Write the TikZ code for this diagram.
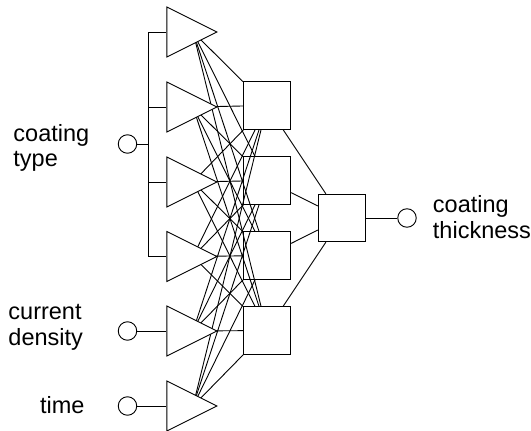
\documentclass[tikz,border=0pt]{standalone}
\usepackage{fontspec}
\setmainfont{Liberation Sans}
\usetikzlibrary{shapes.geometric}
\begin{document}
\begin{tikzpicture}[x=1pt,y=-1pt,line width=0.9pt,
  tri/.style={draw,fill=white,isosceles triangle,isosceles triangle stretches,
    minimum width=50,minimum height=50,inner sep=0pt,anchor=apex},
  sq/.style={draw,rectangle,minimum size=47.5,inner sep=0pt},
  circ/.style={draw,circle,minimum size=18.5,inner sep=0pt},
  lbl/.style={font=\fontsize{23.5}{25.5}\selectfont,inner sep=0pt,align=left}]
\useasboundingbox (0,0) rectangle (531,431);
% hidden squares
\foreach \j/\y in {1/105.5,2/180.5,3/255.5,4/330.5}
  \node[sq] (h\j) at (267,\y) {};
% output square
\node[sq] (o) at (342,218) {};
% centres of the input triangles
\foreach \i/\y in {1/32,2/107,3/182,4/256.5,5/331,6/406}
  \coordinate (c\i) at (193,\y);
% connections input -> hidden (hidden inside the triangles by their fill)
\foreach \i in {1,...,6}
  \foreach \j in {1,...,4}
    \draw (c\i) -- (h\j);
% input triangles
\foreach \i/\y in {1/32,2/107,3/182,4/256.5,5/331,6/406}
  \node[tri] (t\i) at (218,\y) {};
% circles
\node[circ] (ct) at (127.5,144) {};
\node[circ] (cd) at (127.5,331) {};
\node[circ] (tm) at (127.5,406) {};
\node[circ] (oc) at (407,218) {};
% bus
\coordinate (btop) at (148,32);
\coordinate (bbot) at (148,256.5);
\draw (t1.west) -- (btop) -- (bbot) -- (t4.west);
\draw (t2.west) -- (t2.west -| btop);
\draw (t3.west) -- (t3.west -| btop);
\draw (ct) -- (ct -| btop);
\draw (cd) -- (t5);
\draw (tm) -- (t6);
% hidden -> output
\foreach \j in {1,...,4}
  \draw (h\j) -- (o);
\draw (o) -- (oc);
% labels
\node[lbl,anchor=base west] (l1) at (13,166.7) {coating\\type};
\node[lbl,anchor=base west] (l2) at (8,345) {current\\density};
\node[lbl,anchor=base east] (l3) at (85,413) {time};
\node[lbl,anchor=base west] (l4) at (432.5,238.3) {coating\\thickness};
\end{tikzpicture}
\end{document}
